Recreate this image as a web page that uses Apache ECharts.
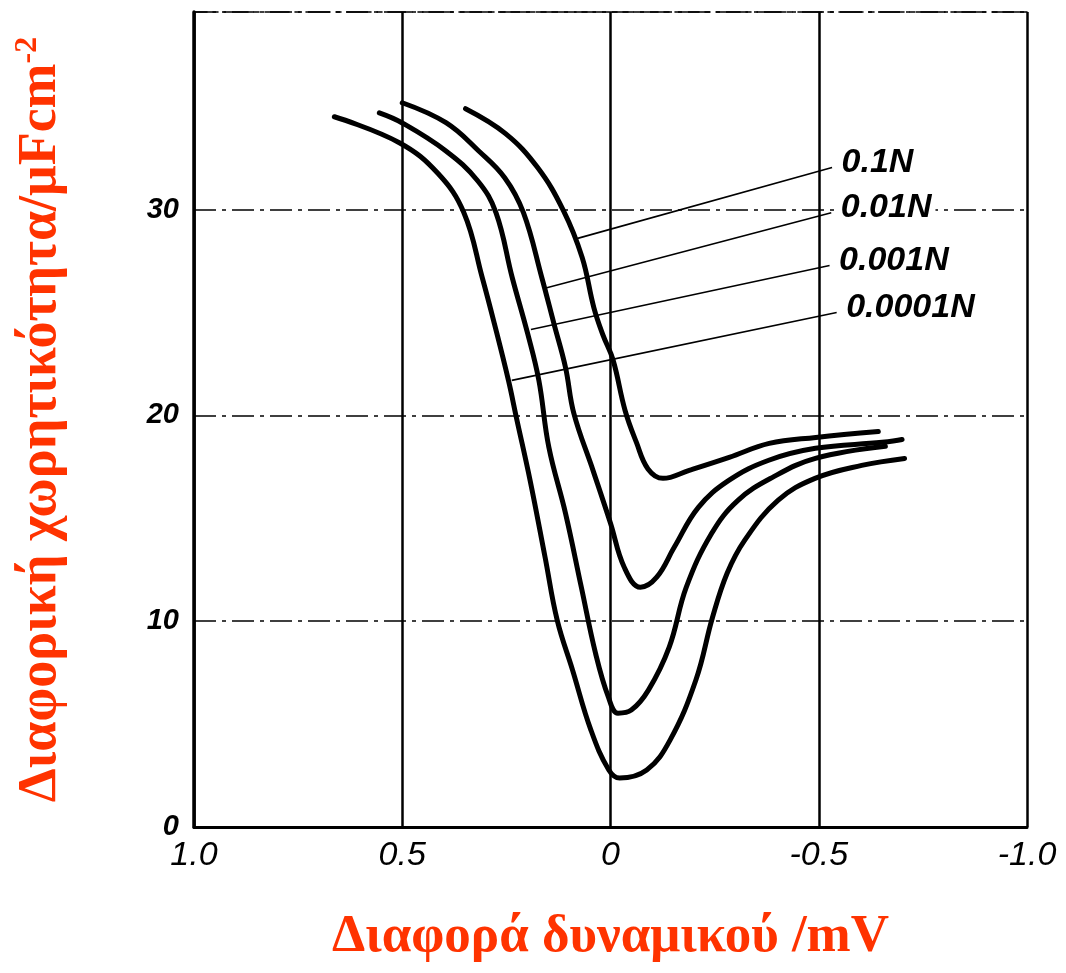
<!DOCTYPE html>
<html>
<head>
<meta charset="utf-8">
<title>Διαφορική χωρητικότητα</title>
<script src="https://cdn.jsdelivr.net/npm/echarts@6/dist/echarts.min.js"></script>
<style>
  html, body { margin: 0; padding: 0; background: #ffffff; }
  #chart { width: 1066px; height: 973px; }
</style>
</head>
<body>
<div id="chart"></div>
<script>
// Potential axis ticks (mV) and their printed labels
const xTicks = [1.0, 0.5, 0, -0.5, -1.0];
const xTickText = ['1.0', '0.5', '0', '-0.5', '-1.0'];
const yTicks = [0, 10, 20, 30];

// Differential capacitance curves, [potential, capacitance]
const curve01N = [
  [0.348, 34.9], [0.252, 33.69], [0.175, 32.04], [0.113, 29.95], [0.068, 27.67],
  [0.04, 25.24], [0.018, 23.9], [-0.006, 22.7], [-0.035, 20.24], [-0.062, 18.7],
  [-0.09, 17.4], [-0.126, 16.94], [-0.189, 17.33], [-0.285, 17.96], [-0.381, 18.64],
  [-0.493, 18.93], [-0.643, 19.22]
];
const curve001N = [
  [0.5, 35.19], [0.395, 34.22], [0.317, 32.86], [0.254, 31.55], [0.209, 29.85],
  [0.165, 26.7], [0.136, 24.47], [0.108, 22.33], [0.088, 20.1], [0.042, 17.33],
  [0.0, 14.76], [-0.033, 12.62], [-0.072, 11.65], [-0.111, 12.14], [-0.153, 13.59],
  [-0.211, 15.53], [-0.284, 16.84], [-0.38, 17.82], [-0.492, 18.4], [-0.652, 18.69],
  [-0.7, 18.83]
];
const curve0001N = [
  [0.555, 34.7], [0.501, 34.22], [0.396, 32.86], [0.319, 31.4], [0.275, 29.85],
  [0.236, 26.7], [0.199, 23.98], [0.172, 21.7], [0.148, 18.45], [0.108, 15.24],
  [0.07, 11.65], [0.036, 8.45], [0.005, 6.31], [-0.018, 5.53], [-0.05, 5.68],
  [-0.091, 6.65], [-0.141, 8.74], [-0.182, 11.65], [-0.243, 14.27], [-0.306, 15.87],
  [-0.389, 16.99], [-0.492, 17.91], [-0.66, 18.5]
];
const curve00001N = [
  [0.663, 34.51], [0.507, 33.25], [0.414, 31.75], [0.352, 29.85], [0.308, 26.7],
  [0.279, 24.47], [0.245, 21.7], [0.226, 19.9], [0.193, 16.84], [0.157, 13.1],
  [0.128, 10.05], [0.091, 7.62], [0.047, 4.71], [0.004, 2.77], [-0.022, 2.38],
  [-0.087, 2.77], [-0.143, 4.22], [-0.205, 7.14], [-0.245, 10.19], [-0.28, 12.33],
  [-0.322, 13.93], [-0.402, 15.87], [-0.491, 16.94], [-0.603, 17.57], [-0.706, 17.91]
];

// Concentration labels and their leader lines (curve point -> label point)
const concNames = ['0.1N', '0.01N', '0.001N', '0.0001N'];
const leaderFrom = [[0.079, 28.6], [0.153, 26.2], [0.191, 24.17], [0.237, 21.7]];
const leaderTo = [[-0.532, 32.04], [-0.53, 29.85], [-0.526, 27.28], [-0.543, 25.0]];

const curves = [curve01N, curve001N, curve0001N, curve00001N];

const chart = echarts.init(document.getElementById('chart'), null, { renderer: 'canvas' });

const tickFont = "'Liberation Sans', Arial, sans-serif";
const titleFont = "'Liberation Serif', 'Times New Roman', serif";
const titleColor = '#FF3300';

const series = [];
curves.forEach(function (data, i) {
  series.push({
    name: concNames[i],
    type: 'line',
    data: data,
    smooth: 0.4,
    showSymbol: false,
    symbol: 'none',
    lineStyle: { color: '#000', width: 5, cap: 'round', join: 'round' },
    z: 5
  });
});
concNames.forEach(function (name, i) {
  series.push({
    name: name + ' leader',
    type: 'line',
    data: [leaderFrom[i], leaderTo[i]],
    showSymbol: false,
    symbol: 'none',
    lineStyle: { color: '#000', width: 1.6 },
    z: 4
  });
});
// concentration captions at the outer end of each leader
series.push({
  name: 'captions',
  type: 'scatter',
  data: leaderTo.map(function (p, i) { return { value: p, name: concNames[i] }; }),
  symbol: 'circle',
  symbolSize: 1,
  itemStyle: { color: 'rgba(0,0,0,0)', opacity: 1 },
  label: {
    show: true,
    position: 'right',
    distance: 6,
    offset: [0, -5],
    formatter: '{b}',
    color: '#000',
    fontSize: 34,
    fontStyle: 'italic',
    fontWeight: 'bold',
    fontFamily: tickFont,
    backgroundColor: '#ffffff',
    padding: [0, 4, 0, 3]
  },
  z: 6
});

const option = {
  animation: false,
  backgroundColor: '#ffffff',
  grid: { left: 194, right: 39, top: 12, bottom: 146, containLabel: false },
  xAxis: [{
    type: 'value',
    min: -1,
    max: 1,
    interval: 0.5,
    inverse: true,
    axisLine: { show: true, onZero: false, lineStyle: { color: '#000', width: 3 } },
    axisTick: { show: false },
    splitLine: { show: true, lineStyle: { color: '#000', width: 2.5 } },
    axisLabel: {
      margin: 12,
      color: '#000',
      fontSize: 34,
      fontStyle: 'italic',
      fontFamily: tickFont,
      formatter: function (v) {
        const k = xTicks.findIndex(function (t) { return Math.abs(t - v) < 1e-9; });
        return k >= 0 ? xTickText[k] : '';
      }
    },
    name: 'Διαφορά δυναμικού /mV',
    nameLocation: 'middle',
    nameGap: 84,
    nameTextStyle: {
      color: titleColor,
      fontSize: 53,
      fontWeight: 'bold',
      fontFamily: titleFont
    }
  }, {
    // dash-dot upper frame edge
    type: 'value',
    position: 'top',
    min: -1,
    max: 1,
    inverse: true,
    axisLine: { show: true, onZero: false, lineStyle: { color: '#000', width: 1.6, type: [24, 6, 5, 6] } },
    axisTick: { show: false },
    axisLabel: { show: false },
    splitLine: { show: false }
  }],
  yAxis: {
    type: 'value',
    min: 0,
    max: 39.6,
    interval: 10,
    axisLine: { show: true, onZero: false, lineStyle: { color: '#000', width: 3.5 } },
    axisTick: { show: false },
    splitLine: { show: true, lineStyle: { color: '#000', width: 1.5, type: [22, 6, 4, 6] } },
    axisLabel: {
      margin: 15,
      color: '#000',
      fontSize: 29,
      fontStyle: 'italic',
      fontWeight: 'bold',
      fontFamily: tickFont,
      formatter: function (v) {
        return yTicks.indexOf(Math.round(v)) >= 0 && Math.abs(v - Math.round(v)) < 1e-9 ? String(Math.round(v)) : '';
      }
    },
    name: '{t|Διαφορική χωρητικότητα/μFcm}{s|-2}',
    nameLocation: 'middle',
    nameRotate: 90,
    nameGap: 124,
    nameTextStyle: {
      rich: {
        t: {
          color: titleColor,
          fontSize: 54,
          fontWeight: 'bold',
          fontFamily: titleFont,
          lineHeight: 58
        },
        s: {
          color: titleColor,
          fontSize: 32,
          fontWeight: 'bold',
          fontFamily: titleFont,
          lineHeight: 58,
          verticalAlign: 'top',
          padding: [0, 0, 24, 0]
        }
      }
    }
  },
  series: series
};

chart.setOption(option);
</script>
</body>
</html>
